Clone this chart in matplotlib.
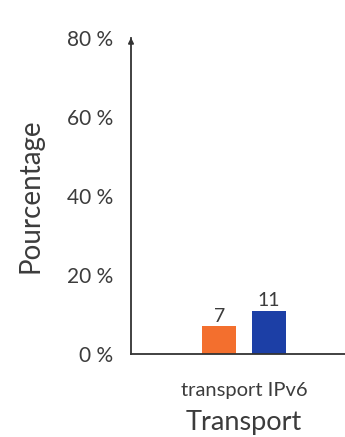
import matplotlib.pyplot as plt

plt.rcParams['font.family'] = ['Lato', 'DejaVu Sans']

categories = ["transport IPv6"]
series_a = [7]
series_b = [11]
y_ticks = [0, 20, 40, 60, 80]
y_tick_labels = ["0 %", "20 %", "40 %", "60 %", "80 %"]

text_col = "#3c3c3c"
col_a = "#f36f2e"
col_b = "#1c3fa6"

fig = plt.figure(figsize=(3.45, 4.37), dpi=100)
ax = fig.add_axes([131 / 345, 83 / 437, 226 / 345, 316 / 437])

w = 0.15
off = 0.11
xs = list(range(len(categories)))
ba = ax.bar([x - off for x in xs], series_a, width=w, color=col_a)
bb = ax.bar([x + off for x in xs], series_b, width=w, color=col_b)
ax.bar_label(ba, labels=[str(v) for v in series_a], padding=1, fontsize=14, color=text_col)
ax.bar_label(bb, labels=[str(v) for v in series_b], padding=1, fontsize=14, color=text_col)

ax.set_xlim(-0.5, 0.5)
ax.set_ylim(0, 80)
ax.set_yticks(y_ticks)
ax.set_yticklabels(y_tick_labels, fontsize=15, color=text_col)
ax.set_xticks(xs)
ax.set_xticklabels(categories, fontsize=14.5, color=text_col)
ax.tick_params(axis='y', length=0, pad=13)
ax.tick_params(axis='x', length=0, pad=20)

ax.set_ylabel("Pourcentage", fontsize=20, color=text_col, labelpad=17)
ax.set_xlabel("Transport", fontsize=19.5, color=text_col, labelpad=8)

for side in ("top", "right"):
    ax.spines[side].set_visible(False)
for side in ("left", "bottom"):
    ax.spines[side].set_color("#333333")
    ax.spines[side].set_linewidth(1.3)

# arrow head on top of the y axis
ax.annotate("", xy=(0, 1.01), xycoords="axes fraction", xytext=(0, 0.98),
            arrowprops=dict(arrowstyle="-|>", color="#333333", lw=1.2,
                            mutation_scale=8))

fig.savefig("out.png", dpi=100)
